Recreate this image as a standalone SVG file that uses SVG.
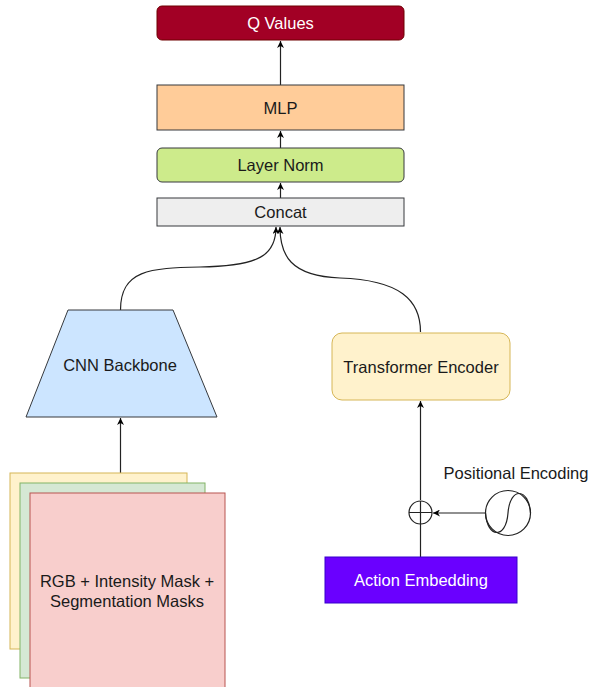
<svg xmlns="http://www.w3.org/2000/svg" width="590" height="687" viewBox="0 0 590 687">
<defs>
<marker id="arr" viewBox="0 0 10 10" refX="10" refY="5" markerWidth="7" markerHeight="7" orient="auto" markerUnits="userSpaceOnUse">
<path d="M0,0 L10,5 L0,10 L3,5 Z" fill="#000"/>
</marker>
</defs>
<style>
text{font-family:"Liberation Sans",Arial,sans-serif;font-size:16.5px;fill:#1a1a1a;text-anchor:middle;dominant-baseline:central}
.w{fill:#fff}
.e{fill:none;stroke:#222;stroke-width:1.2}
</style>
<rect width="590" height="687" fill="#fff"/>
<g id="connectors">
<path class="e" d="M280.5,85 L280.5,41" marker-end="url(#arr)"/>
<path class="e" d="M280.5,148 L280.5,131" marker-end="url(#arr)"/>
<path class="e" d="M280.5,198 L280.5,183" marker-end="url(#arr)"/>
<path class="e" d="M120.5,310 C120.5,270 150,268 200,267 C260,266 276,255 276,227" marker-end="url(#arr)"/>
<path class="e" d="M420.5,332 C420.5,300 400,280 340,278 C290,276 280,255 280,227" marker-end="url(#arr)"/>
<path class="e" d="M120.5,473 L120.5,418" marker-end="url(#arr)"/>
<path class="e" d="M420.5,500 L420.5,401" marker-end="url(#arr)"/>
<path class="e" d="M420.5,557 L420.5,524"/>
<path class="e" d="M485.5,513 L433,513" marker-end="url(#arr)"/>
</g>
<g id="qvalues">
<rect x="157" y="6" width="247" height="34" rx="5" fill="#a20025" stroke="#6f0000"/>
<text class="w" x="280.5" y="23">Q Values</text>
</g>
<g id="mlp">
<rect x="157" y="85" width="247" height="45" fill="#ffcc99" stroke="#36393d"/>
<text x="280.5" y="107.5">MLP</text>
</g>
<g id="layernorm">
<rect x="157" y="148" width="247" height="34" rx="5" fill="#cdeb8b" stroke="#36393d"/>
<text x="280.5" y="165">Layer Norm</text>
</g>
<g id="concat">
<rect x="157" y="198" width="247" height="28" fill="#eeeeee" stroke="#36393d"/>
<text x="280.5" y="212">Concat</text>
</g>
<g id="cnn">
<path d="M68,310 L173,310 L217,417 L26,417 Z" fill="#cce5ff" stroke="#36393d"/>
<text x="120" y="365">CNN Backbone</text>
</g>
<g id="transformer">
<rect x="332" y="333" width="178" height="67" rx="10" fill="#fff2cc" stroke="#d6b656"/>
<text x="421" y="367">Transformer Encoder</text>
</g>
<g id="plus">
<circle cx="420.5" cy="512.5" r="11.5" fill="#fff" stroke="#222" stroke-width="1.2"/>
<path d="M409,512.5 H432 M420.5,501 V524" stroke="#222" stroke-width="1.2"/>
</g>
<g id="posenc">
<circle cx="508" cy="513" r="22.5" fill="#fff" stroke="#222" stroke-width="1.2"/>
<path d="M485.5,513 C487,538 506,540 508,513 C510,486 529,488 530.5,513" fill="none" stroke="#222" stroke-width="1.2"/>
<text x="516" y="473">Positional Encoding</text>
</g>
<g id="action">
<rect x="325" y="557" width="192" height="46" fill="#6a00ff" stroke="#3700cc"/>
<text class="w" x="421" y="580">Action Embedding</text>
</g>
<g id="inputs">
<rect x="10" y="473" width="177" height="176" fill="#fff2cc" stroke="#d6b656"/>
<rect x="20" y="483" width="185" height="195" fill="#d5e8d4" stroke="#82b366"/>
<rect x="30" y="493" width="195" height="200" fill="#f8cecc" stroke="#b85450"/>
<text x="127" y="581">RGB + Intensity Mask +</text>
<text x="127" y="601">Segmentation Masks</text>
</g>
</svg>
